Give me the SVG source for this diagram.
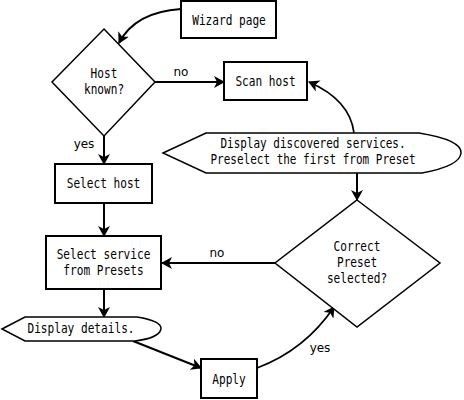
<svg xmlns="http://www.w3.org/2000/svg" width="464" height="400" viewBox="0 0 464 400">
<style>
.box{fill:#fff;stroke:#000;stroke-width:2}
.shape{fill:#fff;stroke:#000;stroke-width:1.5}
.t{font-family:"DejaVu Sans Mono","Liberation Mono",monospace;font-size:14px;fill:#000;text-anchor:middle}
.lbl{font-family:"DejaVu Sans","Liberation Sans",sans-serif;font-size:12px;fill:#000;text-anchor:middle}
.c{fill:none;stroke:#000;stroke-width:2;marker-end:url(#ah)}
.cc{fill:none;stroke:#000;stroke-width:1.7;marker-end:url(#ah)}
</style>
<defs>
<marker id="ah" viewBox="0 0 11 12" refX="10" refY="6" markerWidth="11" markerHeight="12" markerUnits="userSpaceOnUse" orient="auto">
<path d="M0,0 L11,6 L0,12 L3,6 Z" fill="#000"/>
</marker>
</defs>
<rect width="464" height="400" fill="#fff"/>
<g id="connectors">
<path class="c" d="M181,9 Q135,12 119,43"/>
<path class="c" d="M155,82 L224,82"/>
<path class="cc" d="M354,133 Q350,100 309,82"/>
<path class="c" d="M357,173 L357,200"/>
<path class="c" d="M104,136 L104,164"/>
<path class="c" d="M104,203 L104,236"/>
<path class="c" d="M275,263 L162,263"/>
<path class="c" d="M104,289 L104,317"/>
<path class="c" d="M133,341 L201,368"/>
<path class="cc" d="M257,368 Q305,350 334,307"/>
<text class="lbl" x="181" y="76">no</text>
<text class="lbl" x="84" y="148">yes</text>
<text class="lbl" x="217" y="257">no</text>
<text class="lbl" x="320" y="352">yes</text>
</g>
<g id="wizard">
<rect class="box" x="181" y="1" width="95" height="37"/>
<text class="t" transform="translate(229,25) scale(0.795,1)">Wizard page</text>
</g>
<g id="hostknown">
<polygon class="shape" points="104,29 155,82 104,136 52,82"/>
<text class="t" transform="translate(104,78) scale(0.795,1)">Host</text>
<text class="t" transform="translate(104,94) scale(0.795,1)">known?</text>
</g>
<g id="scanhost">
<rect class="box" x="224" y="62" width="83" height="38"/>
<text class="t" transform="translate(265.5,86) scale(0.795,1)">Scan host</text>
</g>
<g id="displayservices">
<path class="shape" d="M163,153 L206,133 L419,133 Q462,140 461,153 Q460,166 422,173 L206,173 Z"/>
<text class="t" transform="translate(313,148) scale(0.785,1)">Display discovered services.</text>
<text class="t" transform="translate(313,164) scale(0.785,1)">Preselect the first from Preset</text>
</g>
<g id="selecthost">
<rect class="box" x="55" y="164" width="97" height="39"/>
<text class="t" transform="translate(103.5,188) scale(0.795,1)">Select host</text>
</g>
<g id="selectservice">
<rect class="box" x="46" y="236" width="115" height="53"/>
<text class="t" transform="translate(103.5,259) scale(0.795,1)">Select service</text>
<text class="t" transform="translate(103.5,275) scale(0.795,1)">from Presets</text>
</g>
<g id="correctpreset">
<polygon class="shape" points="357,200 440,263 357,327 275,263"/>
<text class="t" transform="translate(357,251) scale(0.795,1)">Correct</text>
<text class="t" transform="translate(357,267) scale(0.795,1)">Preset</text>
<text class="t" transform="translate(357,283) scale(0.795,1)">selected?</text>
</g>
<g id="displaydetails">
<path class="shape" d="M2,329 L25,317 L137,317 Q162,321 161,329 Q159,338 135,341 L25,341 Z"/>
<text class="t" transform="translate(81,333) scale(0.795,1)">Display details.</text>
</g>
<g id="apply">
<rect class="box" x="201" y="359" width="56" height="39"/>
<text class="t" transform="translate(229,384) scale(0.795,1)">Apply</text>
</g>
</svg>
